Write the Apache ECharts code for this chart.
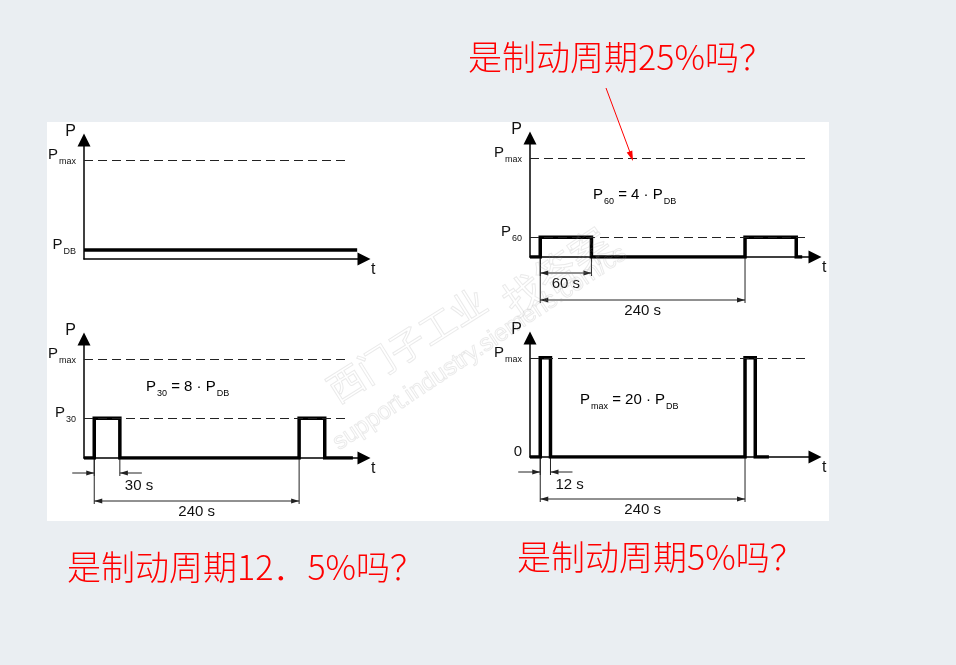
<!DOCTYPE html>
<html>
<head>
<meta charset="utf-8">
<script src="https://cdn.jsdelivr.net/npm/echarts@6/dist/echarts.min.js"></script>
<style>
html,body{margin:0;padding:0;background:#eaeef2;}
#chart{width:956px;height:665px;}
</style>
</head>
<body>
<div id="chart"></div>
<script>
// valores: t en segundos, P en unidades de P_DB
const pdbTimes  = [-12, 308];
const pdbLevels = [1.8, 1.8];

const p60Times  = [-12, 0, 60, 240, 300, 307];
const p60Levels = [0, 4, 0, 4, 0, 0];

const p30Times  = [-12, 0, 30, 240, 270, 303];
const p30Levels = [0, 8, 0, 8, 0, 0];

const pmaxTimes  = [-12, 0, 12, 240, 252, 268];
const pmaxLevels = [0, 20, 0, 20, 0, 0];

// niveles con linea punteada y hasta donde llegan (s)
const dashLevels = [[20], [20, 4], [20, 8], [20]];
const dashEnds   = [297, 316, 297, 316];

// etiquetas del eje P  ("P_max" -> P con subindice)
const tickValues = [[20, 1.8], [20, 4], [20, 8], [20, 0]];
const tickLabels = [['P_max', 'P_DB'], ['P_max', 'P_60'], ['P_max', 'P_30'], ['P_max', '0']];

// cotas de tiempo
const dimSpans = [[], [[0, 60], [0, 240]], [[0, 30], [0, 240]], [[0, 12], [0, 240]]];
const dimTexts = [[], ['60 s', '240 s'], ['30 s', '240 s'], ['12 s', '240 s']];

// formulas y preguntas
const formulas  = ['', 'P_60 = 4 · P_DB', 'P_30 = 8 · P_DB', 'P_max = 20 · P_DB'];
const questions = ['是制动周期25%吗？', '是制动周期12．5%吗？', '是制动周期5%吗？'];

const FONT = '"Liberation Sans", Arial, sans-serif';
const INK = '#111';

const chart = echarts.init(document.getElementById('chart'));

function toRich(txt){
    // "P_60 = 4 · P_DB" -> {p|P}{s|60}{p| = 4 · P}{s|DB}
    let out = '';
    txt.split(/(_\w+)/).forEach(part => {
        if(!part) return;
        if(part[0] === '_') out += '{s|' + part.slice(1) + '}';
        else out += '{p|' + part + '}';
    });
    return out;
}

const rich = {
    p: {fontSize: 15, lineHeight: 17, fontFamily: FONT, color: INK},
    s: {fontSize: 9, lineHeight: 9, fontFamily: FONT, color: INK, padding: [13, 0, 0, 1]}
};

const series = [
    {times: pdbTimes, levels: pdbLevels},
    {times: p60Times, levels: p60Levels},
    {times: p30Times, levels: p30Levels},
    {times: pmaxTimes, levels: pmaxLevels}
];

const grids = [
    {left: 84,  top: 140, width: 280, height: 119},
    {left: 530, top: 138, width: 285, height: 119},
    {left: 84,  top: 339, width: 280, height: 119},
    {left: 530, top: 338, width: 285, height: 119}
];
const xMax = [316, 322, 316, 322];

// posicion de las cotas debajo de la linea base (px)
const dimLayout = [[], [{off: 16}, {off: 43}], [{off: 15, out: true}, {off: 43}], [{off: 15, out: true}, {off: 42}]];

const axisLine = {
    show: true, onZero: false,
    symbol: ['none', 'triangle'], symbolSize: [13, 13],
    lineStyle: {color: '#000', width: 1.5}
};

function head(x, y, dir){
    return {type: 'polygon', shape: {points: [[x, y], [x - dir * 8, y - 2.5], [x - dir * 8, y + 2.5]]},
        style: {fill: '#222'}};
}

function dimRender(k){
    return function(params, api){
        const cfg = dimLayout[k][params.dataIndex];
        const a = api.coord([api.value(0), 0]);
        const b = api.coord([api.value(1), 0]);
        const y = a[1] + cfg.off;
        const st = {stroke: '#222', lineWidth: 1};
        const kids = [
            {type: 'line', shape: {x1: a[0], y1: a[1], x2: a[0], y2: y + 3}, style: st},
            {type: 'line', shape: {x1: b[0], y1: b[1], x2: b[0], y2: y + 3}, style: st}
        ];
        const txt = dimTexts[k][params.dataIndex];
        if(cfg.out){
            kids.push({type: 'line', shape: {x1: a[0] - 22, y1: y, x2: a[0], y2: y}, style: st});
            kids.push(head(a[0], y, 1));
            kids.push({type: 'line', shape: {x1: b[0], y1: y, x2: b[0] + 22, y2: y}, style: st});
            kids.push(head(b[0], y, -1));
            kids.push({type: 'text', x: b[0] + 5, y: y + 13,
                style: {text: txt, fill: INK, font: '15px ' + FONT, align: 'left', verticalAlign: 'middle'}});
        }else{
            kids.push({type: 'line', shape: {x1: a[0], y1: y, x2: b[0], y2: y}, style: st});
            kids.push(head(a[0], y, -1));
            kids.push(head(b[0], y, 1));
            kids.push({type: 'text', x: (a[0] + b[0]) / 2, y: y + 11,
                style: {text: txt, fill: INK, font: '15px ' + FONT, align: 'center', verticalAlign: 'middle'}});
        }
        return {type: 'group', children: kids};
    };
}

const option = {
    animation: false,
    backgroundColor: '#eaeef2',
    grid: grids,
    xAxis: grids.map((g, i) => ({
        gridIndex: i, type: 'value', min: -12, max: xMax[i],
        axisLine: axisLine, axisTick: {show: false}, axisLabel: {show: false}, splitLine: {show: false},
        name: 't', nameLocation: 'end', nameGap: 7,
        nameTextStyle: {fontSize: 16, fontFamily: FONT, color: INK, verticalAlign: 'top', padding: [3, 0, 0, 0]}
    })),
    yAxis: grids.map((g, i) => ({
        gridIndex: i, type: 'value', min: 0, max: 24,
        axisLine: axisLine, axisTick: {show: false}, splitLine: {show: false},
        name: 'P', nameLocation: 'end', nameGap: 0,
        nameTextStyle: {fontSize: 16, fontFamily: FONT, color: INK, align: 'right', verticalAlign: 'bottom', padding: [0, 8, 0, 0]},
        axisLabel: {
            customValues: tickValues[i], margin: 8, padding: [0, 0, 10, 0],
            formatter: v => toRich(tickLabels[i][tickValues[i].indexOf(v)] || ''),
            rich: rich
        }
    })),
    series: [],
    graphic: []
};

series.forEach((s, i) => {
    option.series.push({
        type: 'line', xAxisIndex: i, yAxisIndex: i, step: 'end', showSymbol: false,
        data: s.times.map((t, j) => [t, s.levels[j]]),
        lineStyle: {color: '#000', width: 3.5, cap: 'butt', join: 'miter'},
        markLine: {
            silent: true, symbol: ['none', 'none'], label: {show: false},
            lineStyle: {type: [9, 5], color: '#222', width: 1},
            data: dashLevels[i].map(v => [{coord: [-12, v]}, {coord: [dashEnds[i], v]}])
        },
        z: 3
    });
    if(dimSpans[i].length){
        option.series.push({
            type: 'custom', xAxisIndex: i, yAxisIndex: i, clip: false,
            encode: {x: [0, 1], y: 2},
            data: dimSpans[i].map(d => [d[0], d[1], 0]),
            renderItem: dimRender(i)
        });
    }
});

// hoja blanca
option.graphic.push({type: 'rect', z: -10, shape: {x: 47, y: 122, width: 782, height: 399}, style: {fill: '#fff'}});

// formulas
const formulaPos = [null, [593, 195], [146, 387], [580, 400]];
formulas.forEach((f, i) => {
    if(!f) return;
    option.graphic.push({type: 'text', x: formulaPos[i][0], y: formulaPos[i][1], z: 20,
        style: {text: toRich(f), rich: rich, align: 'left', verticalAlign: 'middle'}});
});

// marca de agua (muy tenue)
const wm = {fill: 'rgba(0,0,0,0)', stroke: 'rgba(150,150,150,0.2)', lineWidth: 1, verticalAlign: 'bottom'};
option.graphic.push({type: 'text', x: 340, y: 408, rotation: 0.56, z: 30,
    style: Object.assign({text: '西门子工业', font: '36px "Noto Sans CJK SC"'}, wm)});
option.graphic.push({type: 'text', x: 518, y: 322, rotation: 0.6, z: 30,
    style: Object.assign({text: '找答案', font: '40px "Noto Sans CJK SC"'}, wm)});
option.graphic.push({type: 'text', x: 342, y: 455, rotation: 0.59, z: 30,
    style: Object.assign({text: 'support.industry.siemens.com/cs', font: '24px ' + FONT}, wm)});

// preguntas en rojo
const questionPos = [[468, 40], [67, 550], [517, 540]];
questions.forEach((q, i) => {
    option.graphic.push({type: 'text', x: questionPos[i][0], y: questionPos[i][1], z: 40,
        style: {text: q, fill: '#ff0000', font: '300 34px "Noto Sans CJK SC"', align: 'left', verticalAlign: 'top'}});
});

// flecha roja hacia P_max
option.graphic.push({type: 'line', z: 40, shape: {x1: 606, y1: 88, x2: 631, y2: 155}, style: {stroke: '#ff0000', lineWidth: 1}});
option.graphic.push({type: 'polygon', z: 40, shape: {points: [[633, 161], [632.3, 150.6], [626.7, 152.6]]}, style: {fill: '#ff0000'}});

chart.setOption(option);
</script>
</body>
</html>
